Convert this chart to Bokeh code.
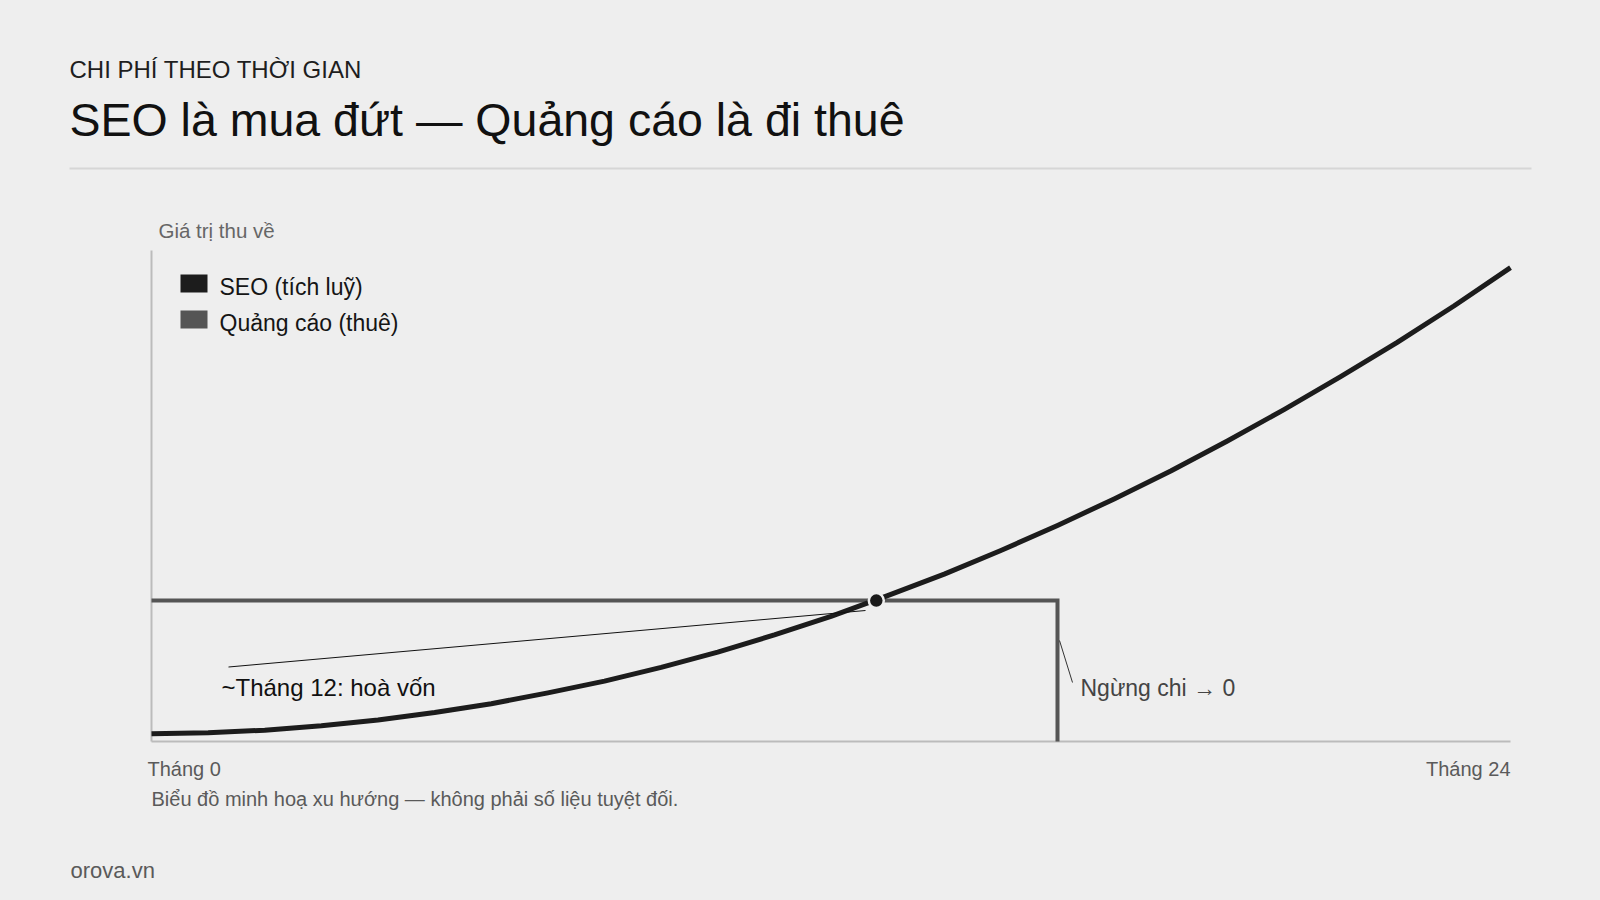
from bokeh.plotting import figure
from bokeh.models import Range1d
from bokeh.core.properties import value
from bokeh.embed import file_html
from bokeh.resources import INLINE

# ---------------- data ----------------
eyebrow = "CHI PHÍ THEO THỜI GIAN"
title = "SEO là mua đứt — Quảng cáo là đi thuê"
y_label = "Giá trị thu về"
series_names = ["SEO (tích luỹ)", "Quảng cáo (thuê)"]
series_colors = ["#1c1c1c", "#555555"]

months = list(range(25))
seo_values = [1.6, 1.8, 2.3, 3.2, 4.4, 5.9, 7.7, 9.9, 12.3, 15.1, 18.2, 21.7,
              25.5, 29.7, 34.1, 38.9, 44.0, 49.4, 55.1, 61.2, 67.6, 74.3, 81.3,
              88.7, 96.5]

ads_months = [0, 16, 16]
ads_values = [28.7, 28.7, 0]

breakeven_month = [12.8]
breakeven_value = [28.7]

x_tick_months = [0, 24]
x_tick_labels = ["Tháng 0", "Tháng 24"]
y_max = 100

breakeven_note = "~Tháng 12: hoà vốn"
stop_note = "Ngừng chi → 0"
caption = "Biểu đồ minh hoạ xu hướng — không phải số liệu tuyệt đối."
source = "orova.vn"

# ---------------- layout (screen pixels of the page) ----------------
W, H, OFF = 1584, 884, 0
L, R, T, B = 151, 1510, 250, 741          # plot area on the page
sx = (R - L) / (x_tick_months[1] - x_tick_months[0])
sy = (B - T) / y_max
BG = "#eeeeee"
FONT = value("Liberation Sans")


def dx(X):
    return (X - L) / sx


def dy(Y):
    return (B - Y) / sy


p = figure(width=W, height=H,
           x_range=Range1d(dx(OFF), dx(OFF + W)),
           y_range=Range1d(dy(OFF + H), dy(OFF)),
           x_axis_type=None, y_axis_type=None,
           output_backend="svg", toolbar_location=None,
           min_border=0, min_border_left=0, min_border_right=0,
           min_border_top=0, min_border_bottom=0,
           background_fill_color=BG, border_fill_color=BG,
           outline_line_color=None)
p.grid.visible = False


def txt(X, Y, s, size, color, align="left"):
    p.text(x=[dx(X)], y=[dy(Y)], text=[s], text_font=FONT,
           text_font_size=f"{size}px", text_color=color,
           text_align=align, text_baseline="alphabetic")


# header
txt(69, 69, eyebrow, 24, "#1e1e1e")
txt(69, 119, title, 46.5, "#111111")
p.segment(x0=[dx(69)], y0=[dy(168)], x1=[dx(1531)], y1=[dy(168)],
          line_color="#d6d6d6", line_width=2)

# axes lines
p.line(x=[x_tick_months[0], x_tick_months[0]], y=[0, y_max],
       line_color="#bbbbbb", line_width=2)
p.line(x=x_tick_months, y=[0, 0], line_color="#bbbbbb", line_width=2)
txt(158, 230, y_label, 20.5, "#666666")

# legend (filled squares)
for i, (name, col) in enumerate(zip(series_names, series_colors)):
    top = 274 + 36 * i
    p.quad(left=[dx(180)], right=[dx(207)], top=[dy(top)], bottom=[dy(top + 18)],
           fill_color=col, line_color=None)
    txt(219, top + 12, name, 23, "#151515")

# series
p.line(x=ads_months, y=ads_values, line_color=series_colors[1], line_width=4,
       line_join="miter")
p.line(x=months, y=seo_values, line_color=series_colors[0], line_width=5,
       line_join="round")

# annotations
p.segment(x0=[dx(228)], y0=[dy(666.5)], x1=[dx(865)], y1=[dy(610)],
          line_color="#111111", line_width=1)
txt(221, 687, breakeven_note, 24, "#111111")
p.segment(x0=[dx(1059)], y0=[dy(640)], x1=[dx(1072)], y1=[dy(682)],
          line_color="#333333", line_width=1)
txt(1080, 687, stop_note, 23, "#444444")

p.scatter(x=breakeven_month, y=breakeven_value, size=15,
          fill_color="#1a1a1a", line_color=BG, line_width=2.5)

# x labels
p.text(x=x_tick_months, y=[0, 0], text=x_tick_labels, text_font=FONT,
       text_font_size="20px", text_color="#5a5a5a",
       text_align=["left", "right"], text_baseline="alphabetic",
       x_offset=[-4, 0], y_offset=[27, 27])

# footer
txt(151, 798, caption, 20, "#5a5a5a")
txt(70, 870, source, 22, "#5a5a5a")

html = file_html(p, INLINE, title="SEO là mua đứt — Quảng cáo là đi thuê")
html = html.replace("</head>", "<style>html,body{background:#eeeeee;}</style></head>", 1)
open("out.html", "w").write(html)
